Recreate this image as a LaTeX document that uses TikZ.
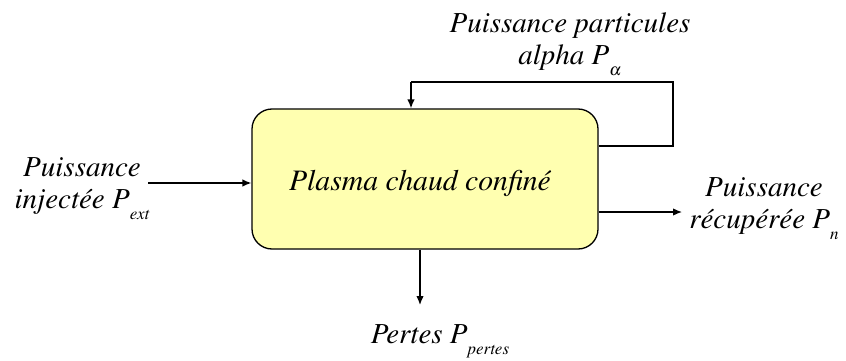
\documentclass[tikz,border=0pt]{standalone}
\usepackage[T1]{fontenc}
\usepackage{mathptmx}
\usetikzlibrary{arrows.meta}
\definecolor{plasmafill}{RGB}{255,255,176}
\newcommand{\sbs}[1]{\raisebox{-0.38em}{\fontsize{17}{17}\selectfont #1}}
\begin{document}
\begin{tikzpicture}[x=1pt,y=-1pt,
  lbl/.style={font=\fontsize{29}{32}\selectfont\itshape, align=center, inner sep=0pt},
  conn/.style={line width=1.3pt, -{Latex[length=9pt,width=7.5pt]}},
  plain/.style={line width=1.3pt}]
\useasboundingbox (0,0) rectangle (846,361);
\node[draw, line width=1.3pt, fill=plasmafill, rounded corners=20pt, minimum width=346pt, minimum height=140pt, inner sep=0pt] (plasma) at (425,179) {};
\node[lbl, anchor=base, font=\fontsize{29.7}{32}\selectfont\itshape] (plasmalbl) at (420,190) {Plasma chaud confin\'e};
% input
\node[lbl, anchor=base] (inj) at (82,208) {Puissance\\inject\'ee P\sbs{ext}};
\coordinate (inS) at (148,183);
\draw[conn] (inS) -- (inS -| plasma.west);
% output right
\node[lbl, anchor=base] (rec) at (764,228) {Puissance\\r\'ecup\'er\'ee P\sbs{n}};
\coordinate (outE) at (682,212);
\draw[conn] (outE -| plasma.east) -- (outE);
% bottom
\coordinate (botE) at (420,305);
\draw[conn] (botE |- plasma.south) -- (botE);
\node[lbl, anchor=base] (pertes) at (440,343) {Pertes P\sbs{pertes}};
% feedback loop
\coordinate (loopA) at (673,146);
\coordinate (loopB) at (673,82);
\coordinate (loopC) at (411,82);
\draw[plain] (loopA -| plasma.east) -- (loopA) -- (loopB) -- (loopC);
\draw[conn] (loopC) -- (loopC |- plasma.north);
\node[lbl, anchor=base] (alpha) at (570,64) {Puissance particules\\alpha P\sbs{$\alpha$}};
\end{tikzpicture}
\end{document}
